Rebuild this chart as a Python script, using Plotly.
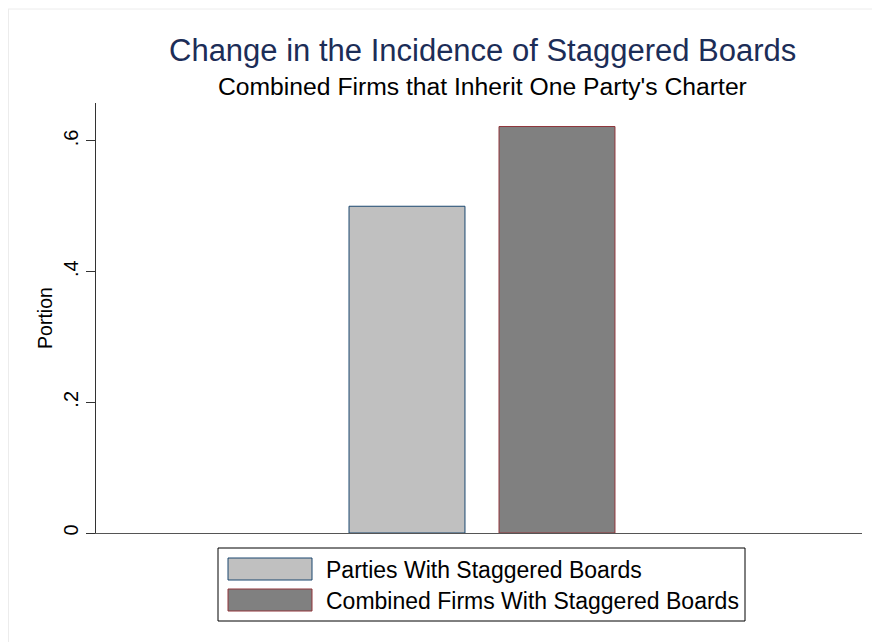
import plotly.graph_objects as go

# ---- data ----
series_names = ["Parties With Staggered Boards", "Combined Firms With Staggered Boards"]
series_values = [0.50, 0.622]
category = [""]
fill_colors = ["#c0c0c0", "#808080"]
line_colors = ["#1a476f", "#90353b"]
y_tick_vals = [0, 0.2, 0.4, 0.6]
y_tick_text = ["0", ".2", ".4", ".6"]

# page body has an 8px margin; work in screen pixels and convert
OFF = 8
W, H = 880 - OFF, 642 - OFF
PL, PR, PT, PB = 96, 862, 103, 533  # plot area in screen pixels
ML, MR, MT, MB = PL - OFF, 880 - PR, PT - OFF, 642 - PB
PW, PH = PR - PL, PB - PT


def px_x(x):
    return (x - PL) / PW


def px_y(y):
    return (PB - y) / PH


fig = go.Figure()
for name, val, fc, lc in zip(series_names, series_values, fill_colors, line_colors):
    fig.add_trace(go.Bar(x=category, y=[val], name=name,
                         marker=dict(color=fc, line=dict(color=lc, width=1)),
                         showlegend=False))

font = "Liberation Sans, Arial, sans-serif"
shapes = []
annotations = []

# faint outer frame
shapes.append(dict(type="line", xref="paper", yref="paper", x0=px_x(8), x1=px_x(880),
                   y0=px_y(9), y1=px_y(9), line=dict(color="#ececec", width=1)))
shapes.append(dict(type="line", xref="paper", yref="paper", x0=px_x(8.5), x1=px_x(8.5),
                   y0=px_y(9), y1=px_y(642), line=dict(color="#ececec", width=1)))

# custom legend
shapes.append(dict(type="rect", xref="paper", yref="paper", x0=px_x(218), x1=px_x(745),
                   y0=px_y(621), y1=px_y(548), line=dict(color="#000000", width=1),
                   fillcolor="white"))
sw_tops = [558, 589]
for i, (name, fc, lc) in enumerate(zip(series_names, fill_colors, line_colors)):
    t = sw_tops[i]
    shapes.append(dict(type="rect", xref="paper", yref="paper", x0=px_x(228), x1=px_x(312),
                       y0=px_y(t + 22), y1=px_y(t), line=dict(color=lc, width=1),
                       fillcolor=fc))
    annotations.append(dict(text=name, xref="paper", yref="paper", x=px_x(324),
                            y=px_y(t + 11.5), xanchor="left", yanchor="middle",
                            showarrow=False, font=dict(family=font, size=23, color="black")))

# titles
annotations.append(dict(text="Change in the Incidence of Staggered Boards", xref="paper",
                        yref="paper", x=px_x(482), y=px_y(50), xanchor="center",
                        yanchor="middle", showarrow=False,
                        font=dict(family=font, size=31, color="#1c2d57")))
annotations.append(dict(text="Combined Firms that Inherit One Party's Charter", xref="paper",
                        yref="paper", x=px_x(482), y=px_y(86), xanchor="center",
                        yanchor="middle", showarrow=False,
                        font=dict(family=font, size=24.7, color="black")))

# bar group geometry
unit = 750.0
x0 = -(482 - PL) / unit
x1 = x0 + PW / unit

fig.update_layout(
    width=W, height=H,
    margin=dict(l=ML, r=MR, t=MT, b=MB),
    paper_bgcolor="white", plot_bgcolor="white",
    barmode="group", bargap=0.6, bargroupgap=0.227,
    font=dict(family=font, size=20, color="black"),
    shapes=shapes, annotations=annotations,
    showlegend=False,
    xaxis=dict(type="category", range=[x0, x1], showticklabels=False, ticks="",
               showline=True, linecolor="#555555", linewidth=1, showgrid=False,
               zeroline=False, fixedrange=True),
    yaxis=dict(range=[0, 0.658], tickvals=y_tick_vals, ticktext=y_tick_text,
               tickangle=-90, ticks="outside", ticklen=9, tickcolor="#333333",
               showline=True, linecolor="#333333", linewidth=1, showgrid=False,
               zeroline=False, tickfont=dict(size=20, family=font),
               title=dict(text="Portion", font=dict(size=19.5, family=font), standoff=2)),
)

fig.write_html("out.html")
